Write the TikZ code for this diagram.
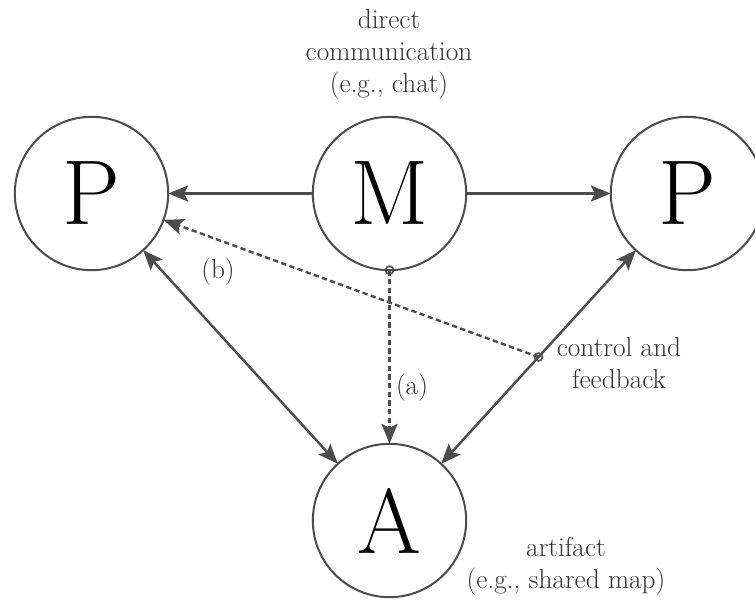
\documentclass[tikz,border=0pt]{standalone}
\usetikzlibrary{arrows.meta}
\definecolor{linegray}{HTML}{4D4B4B}
\definecolor{textgray}{HTML}{333131}
\tikzset{
  bigcircle/.style={circle, draw=linegray, line width=1.5pt, minimum size=115pt, inner sep=0pt, outer sep=0pt,
    font=\fontsize{69}{69}\selectfont, text=black},
  smallcircle/.style={circle, draw=linegray, line width=1.2pt, minimum size=6pt, inner sep=0pt, outer sep=0pt},
  conn/.style={draw=linegray, line width=1.8pt, arrows={-Stealth[length=15pt, width=12pt, inset=3pt]}},
  dconn/.style={conn, dash pattern=on 4pt off 2.5pt},
  lbl/.style={text=textgray, font=\fontsize{20.5}{24}\selectfont, align=center, inner sep=0pt}
}
\begin{document}
\begin{tikzpicture}[x=0.75pt, y=-0.75pt]
\useasboundingbox (0,0) rectangle (755,601);
\node[bigcircle] (P1) at (91.5,193.5) {P};
\node[bigcircle] (M) at (389.5,193.5) {M};
\node[bigcircle] (P2) at (687.5,193.5) {P};
\node[bigcircle] (A) at (389.5,520.5) {A};
\path (M.south) coordinate (mb);
\path (P2) -- (A) coordinate[pos=0.5] (fb);
\draw[conn] (M) -- (P1);
\draw[conn] (M) -- (P2);
\draw[conn, arrows={Stealth[length=15pt, width=12pt, inset=3pt]-Stealth[length=15pt, width=12pt, inset=3pt]}] (P1) -- (A);
\draw[conn, arrows={Stealth[length=15pt, width=12pt, inset=3pt]-Stealth[length=15pt, width=12pt, inset=3pt]}] (P2) -- (A);
\draw[dconn] (mb) -- (A);
\draw[dconn] (fb) -- (P1);
\node[smallcircle] (mbc) at (mb) {};
\node[smallcircle] (fbc) at (fb) {};
\node[lbl] (top) at (389,54) {direct\\communication\\(e.g., chat)};
\node[lbl] (cf) at (619,363) {control and\\feedback};
\node[lbl] (art) at (566,566) {artifact\\(e.g., shared map)};
\node[lbl] (la) at (412,388) {(a)};
\node[lbl] (lb) at (218,272) {(b)};
\end{tikzpicture}
\end{document}
